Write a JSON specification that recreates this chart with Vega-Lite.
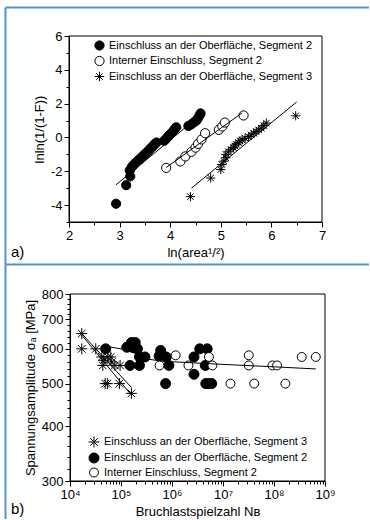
{
  "$schema": "https://vega.github.io/schema/vega-lite/v6.json",
  "padding": {"left": 5, "top": 7, "right": 0, "bottom": 0},
  "spacing": 0,
  "bounds": "flush",
  "config": {
    "font": "Liberation Sans, Arial, sans-serif",
    "view": {"stroke": null},
    "axis": {"labelFont": "Liberation Sans, DejaVu Sans", "titleFont": "Liberation Sans, DejaVu Sans", "labelFontSize": 13, "titleFontSize": 13, "titleFontWeight": "normal", "labelColor": "black", "titleColor": "black", "domainColor": "black", "tickColor": "black", "grid": false, "labelPadding": 2, "labelFlush": false, "labelOverlap": false},
    "legend": {"labelFont": "Liberation Sans", "labelFontSize": 11, "labelColor": "black", "symbolStrokeColor": "black", "symbolStrokeWidth": 1, "padding": 0, "title": null, "labelLimit": 400},
    "title": {"font": "Liberation Sans", "fontSize": 15, "fontWeight": "normal", "color": "black"}
  },
  "resolve": {"scale": {"shape": "independent", "fill": "independent", "stroke": "independent", "size": "independent"}, "legend": {"shape": "independent", "fill": "independent", "stroke": "independent", "size": "independent"}},
  "vconcat": [
    {
      "width": 364,
      "height": 257,
      "title": {"text": "a)", "orient": "bottom", "anchor": "start", "frame": "group", "offset": -4, "baseline": "bottom", "dx": 6},
      "resolve": {"scale": {"x": "independent", "y": "independent"}},
      "layer": [
        {
          "data": {"values": []},
          "mark": {"type": "point"},
          "encoding": {
            "x": {"field": "bx", "type": "quantitative", "scale": {"domain": [0, 1], "nice": false, "zero": false}, "axis": {"orient": "top", "offset": 0, "domain": true, "domainColor": "#4f95d2", "domainWidth": 2, "ticks": false, "labels": false, "title": null}},
            "y": {"field": "by", "type": "quantitative", "scale": {"domain": [0, 1], "nice": false, "zero": false}, "axis": {"orient": "left", "offset": 0, "domain": true, "domainColor": "#4f95d2", "domainWidth": 2, "ticks": false, "labels": false, "title": null}}
          }
        },
        {
          "data": {"values": [
            {"s": "Einschluss an der Oberfläche, Segment 2", "x": 2.93, "y": -3.92},
            {"s": "Einschluss an der Oberfläche, Segment 2", "x": 3.13, "y": -2.82},
            {"s": "Einschluss an der Oberfläche, Segment 2", "x": 3.21, "y": -2.3},
            {"s": "Einschluss an der Oberfläche, Segment 2", "x": 3.2, "y": -1.95},
            {"s": "Einschluss an der Oberfläche, Segment 2", "x": 3.24, "y": -1.75},
            {"s": "Einschluss an der Oberfläche, Segment 2", "x": 3.27, "y": -1.65},
            {"s": "Einschluss an der Oberfläche, Segment 2", "x": 3.3, "y": -1.55},
            {"s": "Einschluss an der Oberfläche, Segment 2", "x": 3.34, "y": -1.45},
            {"s": "Einschluss an der Oberfläche, Segment 2", "x": 3.37, "y": -1.35},
            {"s": "Einschluss an der Oberfläche, Segment 2", "x": 3.4, "y": -1.28},
            {"s": "Einschluss an der Oberfläche, Segment 2", "x": 3.43, "y": -1.2},
            {"s": "Einschluss an der Oberfläche, Segment 2", "x": 3.46, "y": -1.1},
            {"s": "Einschluss an der Oberfläche, Segment 2", "x": 3.49, "y": -1.02},
            {"s": "Einschluss an der Oberfläche, Segment 2", "x": 3.52, "y": -0.93},
            {"s": "Einschluss an der Oberfläche, Segment 2", "x": 3.55, "y": -0.85},
            {"s": "Einschluss an der Oberfläche, Segment 2", "x": 3.58, "y": -0.75},
            {"s": "Einschluss an der Oberfläche, Segment 2", "x": 3.61, "y": -0.66},
            {"s": "Einschluss an der Oberfläche, Segment 2", "x": 3.64, "y": -0.57},
            {"s": "Einschluss an der Oberfläche, Segment 2", "x": 3.67, "y": -0.48},
            {"s": "Einschluss an der Oberfläche, Segment 2", "x": 3.7, "y": -0.38},
            {"s": "Einschluss an der Oberfläche, Segment 2", "x": 3.73, "y": -0.3},
            {"s": "Einschluss an der Oberfläche, Segment 2", "x": 3.88, "y": -0.2},
            {"s": "Einschluss an der Oberfläche, Segment 2", "x": 3.92, "y": -0.08},
            {"s": "Einschluss an der Oberfläche, Segment 2", "x": 3.96, "y": 0.05},
            {"s": "Einschluss an der Oberfläche, Segment 2", "x": 3.99, "y": 0.15},
            {"s": "Einschluss an der Oberfläche, Segment 2", "x": 4.02, "y": 0.25},
            {"s": "Einschluss an der Oberfläche, Segment 2", "x": 4.06, "y": 0.38},
            {"s": "Einschluss an der Oberfläche, Segment 2", "x": 4.09, "y": 0.5},
            {"s": "Einschluss an der Oberfläche, Segment 2", "x": 4.12, "y": 0.6},
            {"s": "Einschluss an der Oberfläche, Segment 2", "x": 4.36, "y": 0.68},
            {"s": "Einschluss an der Oberfläche, Segment 2", "x": 4.42, "y": 0.78},
            {"s": "Einschluss an der Oberfläche, Segment 2", "x": 4.47, "y": 0.9},
            {"s": "Einschluss an der Oberfläche, Segment 2", "x": 4.52, "y": 1.0},
            {"s": "Einschluss an der Oberfläche, Segment 2", "x": 4.55, "y": 1.15},
            {"s": "Einschluss an der Oberfläche, Segment 2", "x": 4.58, "y": 1.3},
            {"s": "Einschluss an der Oberfläche, Segment 2", "x": 4.6, "y": 1.42},
            {"s": "Interner Einschluss, Segment 2", "x": 3.92, "y": -1.8},
            {"s": "Interner Einschluss, Segment 2", "x": 4.2, "y": -1.42},
            {"s": "Interner Einschluss, Segment 2", "x": 4.3, "y": -1.12},
            {"s": "Interner Einschluss, Segment 2", "x": 4.42, "y": -0.85},
            {"s": "Interner Einschluss, Segment 2", "x": 4.5, "y": -0.6},
            {"s": "Interner Einschluss, Segment 2", "x": 4.55, "y": -0.38},
            {"s": "Interner Einschluss, Segment 2", "x": 4.62, "y": -0.12},
            {"s": "Interner Einschluss, Segment 2", "x": 4.69, "y": 0.25},
            {"s": "Interner Einschluss, Segment 2", "x": 4.96, "y": 0.45},
            {"s": "Interner Einschluss, Segment 2", "x": 5.03, "y": 0.65},
            {"s": "Interner Einschluss, Segment 2", "x": 5.08, "y": 0.88},
            {"s": "Interner Einschluss, Segment 2", "x": 5.45, "y": 1.3},
            {"s": "Einschluss an der Oberfläche, Segment 3", "x": 4.4, "y": -3.5},
            {"s": "Einschluss an der Oberfläche, Segment 3", "x": 4.8, "y": -2.4},
            {"s": "Einschluss an der Oberfläche, Segment 3", "x": 5.0, "y": -1.9},
            {"s": "Einschluss an der Oberfläche, Segment 3", "x": 5.02, "y": -1.6},
            {"s": "Einschluss an der Oberfläche, Segment 3", "x": 5.06, "y": -1.4},
            {"s": "Einschluss an der Oberfläche, Segment 3", "x": 5.1, "y": -1.2},
            {"s": "Einschluss an der Oberfläche, Segment 3", "x": 5.1, "y": -1.0},
            {"s": "Einschluss an der Oberfläche, Segment 3", "x": 5.15, "y": -0.85},
            {"s": "Einschluss an der Oberfläche, Segment 3", "x": 5.2, "y": -0.7},
            {"s": "Einschluss an der Oberfläche, Segment 3", "x": 5.25, "y": -0.6},
            {"s": "Einschluss an der Oberfläche, Segment 3", "x": 5.28, "y": -0.5},
            {"s": "Einschluss an der Oberfläche, Segment 3", "x": 5.3, "y": -0.4},
            {"s": "Einschluss an der Oberfläche, Segment 3", "x": 5.35, "y": -0.3},
            {"s": "Einschluss an der Oberfläche, Segment 3", "x": 5.38, "y": -0.2},
            {"s": "Einschluss an der Oberfläche, Segment 3", "x": 5.42, "y": -0.15},
            {"s": "Einschluss an der Oberfläche, Segment 3", "x": 5.48, "y": -0.05},
            {"s": "Einschluss an der Oberfläche, Segment 3", "x": 5.55, "y": 0.05},
            {"s": "Einschluss an der Oberfläche, Segment 3", "x": 5.6, "y": 0.15},
            {"s": "Einschluss an der Oberfläche, Segment 3", "x": 5.65, "y": 0.25},
            {"s": "Einschluss an der Oberfläche, Segment 3", "x": 5.7, "y": 0.35},
            {"s": "Einschluss an der Oberfläche, Segment 3", "x": 5.75, "y": 0.45},
            {"s": "Einschluss an der Oberfläche, Segment 3", "x": 5.8, "y": 0.55},
            {"s": "Einschluss an der Oberfläche, Segment 3", "x": 5.85, "y": 0.7},
            {"s": "Einschluss an der Oberfläche, Segment 3", "x": 5.9, "y": 0.85},
            {"s": "Einschluss an der Oberfläche, Segment 3", "x": 6.48, "y": 1.28}
          ]},
          "mark": {"type": "point", "strokeWidth": 1, "opacity": 1},
          "encoding": {
            "x": {"field": "x", "type": "quantitative", "scale": {"domain": [2, 7], "range": [64, 317], "nice": false, "zero": false},
              "axis": {"orient": "bottom", "offset": -42, "title": "ln(area¹/²)", "values": [2, 2.5, 3, 3.5, 4, 4.5, 5, 5.5, 6, 6.5, 7], "labelExpr": "datum.value % 1 == 0 ? '' + datum.value : ''", "tickSize": {"condition": {"test": "datum.value % 1 == 0", "value": 5}, "value": 3}}},
            "y": {"field": "y", "type": "quantitative", "scale": {"domain": [-5, 6], "range": [215, 29], "nice": false, "zero": false},
              "axis": {"orient": "left", "offset": -64, "title": "lnln(1/(1-F))", "values": [-5, -4, -3, -2, -1, 0, 1, 2, 3, 4, 5, 6], "labelExpr": "datum.value % 2 == 0 ? '' + datum.value : ''", "tickSize": {"condition": {"test": "datum.value % 2 == 0", "value": 5}, "value": 3}}},
            "shape": {"field": "s", "type": "nominal", "scale": {"domain": ["Einschluss an der Oberfläche, Segment 2", "Interner Einschluss, Segment 2", "Einschluss an der Oberfläche, Segment 3"], "range": ["circle", "circle", "M-1,0L1,0M0,-1L0,1M-0.7,-0.7L0.7,0.7M-0.7,0.7L0.7,-0.7"]},
              "legend": {"orient": "none", "legendX": 89, "legendY": 33, "rowPadding": 0.5, "labelOffset": 4}},
            "fill": {"field": "s", "type": "nominal", "scale": {"domain": ["Einschluss an der Oberfläche, Segment 2", "Interner Einschluss, Segment 2", "Einschluss an der Oberfläche, Segment 3"], "range": ["black", "white", "black"]},
              "legend": {"orient": "none", "legendX": 89, "legendY": 33, "rowPadding": 0.5, "labelOffset": 4}},
            "stroke": {"field": "s", "type": "nominal", "scale": {"domain": ["Einschluss an der Oberfläche, Segment 2", "Interner Einschluss, Segment 2", "Einschluss an der Oberfläche, Segment 3"], "range": ["black", "black", "black"]},
              "legend": {"orient": "none", "legendX": 89, "legendY": 33, "rowPadding": 0.5, "labelOffset": 4}},
            "size": {"field": "s", "type": "ordinal", "scale": {"domain": ["Einschluss an der Oberfläche, Segment 2", "Interner Einschluss, Segment 2", "Einschluss an der Oberfläche, Segment 3"], "range": [85, 85, 125]},
              "legend": {"orient": "none", "legendX": 89, "legendY": 33, "rowPadding": 0.5, "labelOffset": 4}}
          }
        },
        {
          "data": {"values": [
            {"l": "a", "x": 2.93, "y": -2.8},
            {"l": "a", "x": 4.67, "y": 1.5},
            {"l": "b", "x": 3.92, "y": -1.78},
            {"l": "b", "x": 5.42, "y": 1.45},
            {"l": "c", "x": 4.42, "y": -3.0},
            {"l": "c", "x": 6.5, "y": 2.1}
          ]},
          "mark": {"type": "line", "color": "black", "strokeWidth": 1},
          "encoding": {
            "x": {"field": "x", "type": "quantitative", "scale": {"domain": [2, 7], "range": [64, 317], "nice": false, "zero": false}, "axis": null},
            "y": {"field": "y", "type": "quantitative", "scale": {"domain": [-5, 6], "range": [215, 29], "nice": false, "zero": false}, "axis": null},
            "detail": {"field": "l"}
          }
        },
        {
          "data": {"values": [{}]},
          "mark": {"type": "rect", "fill": null, "fillOpacity": 0, "stroke": "black", "strokeWidth": 1},
          "encoding": {
            "x": {"datum": 2, "type": "quantitative", "scale": {"domain": [2, 7], "range": [64, 317], "nice": false, "zero": false}, "axis": null},
            "x2": {"datum": 7},
            "y": {"datum": -5, "type": "quantitative", "scale": {"domain": [-5, 6], "range": [215, 29], "nice": false, "zero": false}, "axis": null},
            "y2": {"datum": 6}
          }
        }
      ]
    },
    {
      "width": 364,
      "height": 255,
      "title": {"text": "b)", "orient": "bottom", "anchor": "start", "frame": "group", "offset": -2, "baseline": "bottom", "dx": 6},
      "resolve": {"scale": {"x": "independent", "y": "independent"}},
      "layer": [
        {
          "data": {"values": []},
          "mark": {"type": "point"},
          "encoding": {
            "x": {"field": "bx", "type": "quantitative", "scale": {"domain": [0, 1], "nice": false, "zero": false}, "axis": {"orient": "top", "offset": 0, "domain": true, "domainColor": "#4f95d2", "domainWidth": 2, "ticks": false, "labels": false, "title": null}},
            "y": {"field": "by", "type": "quantitative", "scale": {"domain": [0, 1], "nice": false, "zero": false}, "axis": {"orient": "left", "offset": 0, "domain": true, "domainColor": "#4f95d2", "domainWidth": 2, "ticks": false, "labels": false, "title": null}}
          }
        },
        {
          "data": {"values": [
            {"s": "Einschluss an der Oberfläche, Segment 3", "n": 17000, "v": 650},
            {"s": "Einschluss an der Oberfläche, Segment 3", "n": 17000, "v": 600},
            {"s": "Einschluss an der Oberfläche, Segment 3", "n": 32000, "v": 600},
            {"s": "Einschluss an der Oberfläche, Segment 3", "n": 42000, "v": 575},
            {"s": "Einschluss an der Oberfläche, Segment 3", "n": 46000, "v": 565},
            {"s": "Einschluss an der Oberfläche, Segment 3", "n": 44000, "v": 550},
            {"s": "Einschluss an der Oberfläche, Segment 3", "n": 55000, "v": 575},
            {"s": "Einschluss an der Oberfläche, Segment 3", "n": 63000, "v": 575},
            {"s": "Einschluss an der Oberfläche, Segment 3", "n": 66000, "v": 560},
            {"s": "Einschluss an der Oberfläche, Segment 3", "n": 76000, "v": 550},
            {"s": "Einschluss an der Oberfläche, Segment 3", "n": 96000, "v": 550},
            {"s": "Einschluss an der Oberfläche, Segment 3", "n": 49000, "v": 500},
            {"s": "Einschluss an der Oberfläche, Segment 3", "n": 54000, "v": 500},
            {"s": "Einschluss an der Oberfläche, Segment 3", "n": 93000, "v": 500},
            {"s": "Einschluss an der Oberfläche, Segment 3", "n": 160000, "v": 475},
            {"s": "Einschluss an der Oberfläche, Segment 2", "n": 50000, "v": 600},
            {"s": "Einschluss an der Oberfläche, Segment 2", "n": 130000, "v": 605},
            {"s": "Einschluss an der Oberfläche, Segment 2", "n": 160000, "v": 620},
            {"s": "Einschluss an der Oberfläche, Segment 2", "n": 190000, "v": 620},
            {"s": "Einschluss an der Oberfläche, Segment 2", "n": 175000, "v": 605},
            {"s": "Einschluss an der Oberfläche, Segment 2", "n": 210000, "v": 600},
            {"s": "Einschluss an der Oberfläche, Segment 2", "n": 230000, "v": 575},
            {"s": "Einschluss an der Oberfläche, Segment 2", "n": 295000, "v": 575},
            {"s": "Einschluss an der Oberfläche, Segment 2", "n": 150000, "v": 550},
            {"s": "Einschluss an der Oberfläche, Segment 2", "n": 230000, "v": 550},
            {"s": "Einschluss an der Oberfläche, Segment 2", "n": 600000, "v": 595},
            {"s": "Einschluss an der Oberfläche, Segment 2", "n": 560000, "v": 578},
            {"s": "Einschluss an der Oberfläche, Segment 2", "n": 770000, "v": 575},
            {"s": "Einschluss an der Oberfläche, Segment 2", "n": 870000, "v": 550},
            {"s": "Einschluss an der Oberfläche, Segment 2", "n": 750000, "v": 500},
            {"s": "Einschluss an der Oberfläche, Segment 2", "n": 2700000, "v": 575},
            {"s": "Einschluss an der Oberfläche, Segment 2", "n": 3500000, "v": 600},
            {"s": "Einschluss an der Oberfläche, Segment 2", "n": 4900000, "v": 600},
            {"s": "Einschluss an der Oberfläche, Segment 2", "n": 4500000, "v": 550},
            {"s": "Einschluss an der Oberfläche, Segment 2", "n": 2700000, "v": 525},
            {"s": "Einschluss an der Oberfläche, Segment 2", "n": 4600000, "v": 500},
            {"s": "Einschluss an der Oberfläche, Segment 2", "n": 5300000, "v": 500},
            {"s": "Einschluss an der Oberfläche, Segment 2", "n": 6000000, "v": 500},
            {"s": "Interner Einschluss, Segment 2", "n": 1180000, "v": 580},
            {"s": "Interner Einschluss, Segment 2", "n": 570000, "v": 550},
            {"s": "Interner Einschluss, Segment 2", "n": 2100000, "v": 550},
            {"s": "Interner Einschluss, Segment 2", "n": 5300000, "v": 575},
            {"s": "Interner Einschluss, Segment 2", "n": 6200000, "v": 550},
            {"s": "Interner Einschluss, Segment 2", "n": 14000000, "v": 500},
            {"s": "Interner Einschluss, Segment 2", "n": 32000000, "v": 580},
            {"s": "Interner Einschluss, Segment 2", "n": 32000000, "v": 550},
            {"s": "Interner Einschluss, Segment 2", "n": 41000000, "v": 500},
            {"s": "Interner Einschluss, Segment 2", "n": 93000000, "v": 550},
            {"s": "Interner Einschluss, Segment 2", "n": 115000000, "v": 550},
            {"s": "Interner Einschluss, Segment 2", "n": 167000000, "v": 500},
            {"s": "Interner Einschluss, Segment 2", "n": 350000000, "v": 575},
            {"s": "Interner Einschluss, Segment 2", "n": 660000000, "v": 575}
          ]},
          "mark": {"type": "point", "strokeWidth": 1, "opacity": 1},
          "encoding": {
            "x": {"field": "n", "type": "quantitative", "scale": {"type": "log", "domain": [10000, 1000000000], "range": [65, 320], "nice": false},
              "axis": {"orient": "bottom", "offset": -38, "title": "Bruchlastspielzahl Nʙ",
                "values": [10000, 20000, 30000, 40000, 50000, 60000, 70000, 80000, 90000, 100000, 200000, 300000, 400000, 500000, 600000, 700000, 800000, 900000, 1000000, 2000000, 3000000, 4000000, 5000000, 6000000, 7000000, 8000000, 9000000, 10000000, 20000000, 30000000, 40000000, 50000000, 60000000, 70000000, 80000000, 90000000, 100000000, 200000000, 300000000, 400000000, 500000000, 600000000, 700000000, 800000000, 900000000, 1000000000],
                "labelExpr": "abs(log(datum.value)/LN10 - round(log(datum.value)/LN10)) < 0.000001 ? '10' + ['⁴','⁵','⁶','⁷','⁸','⁹'][round(log(datum.value)/LN10) - 4] : ''",
                "tickSize": {"condition": {"test": "abs(log(datum.value)/LN10 - round(log(datum.value)/LN10)) < 0.000001", "value": 5}, "value": 3}}},
            "y": {"field": "v", "type": "quantitative", "scale": {"type": "log", "domain": [300, 800], "range": [217, 30], "nice": false},
              "axis": {"orient": "left", "offset": -65, "title": "Spannungsamplitude σₐ [MPa]",
                "values": [300, 320, 340, 360, 380, 400, 420, 440, 460, 480, 500, 520, 540, 560, 580, 600, 620, 640, 660, 680, 700, 720, 740, 760, 780, 800],
                "labelExpr": "datum.value % 100 == 0 ? '' + datum.value : ''",
                "tickSize": {"condition": {"test": "datum.value % 100 == 0", "value": 5}, "value": 3}}},
            "shape": {"field": "s", "type": "nominal", "scale": {"domain": ["Einschluss an der Oberfläche, Segment 3", "Einschluss an der Oberfläche, Segment 2", "Interner Einschluss, Segment 2"], "range": ["M-1,0L1,0M0,-1L0,1M-0.7,-0.7L0.7,0.7M-0.7,0.7L0.7,-0.7", "circle", "circle"]},
              "legend": {"orient": "none", "legendX": 83, "legendY": 172, "rowPadding": 0.5, "labelOffset": 4}},
            "fill": {"field": "s", "type": "nominal", "scale": {"domain": ["Einschluss an der Oberfläche, Segment 3", "Einschluss an der Oberfläche, Segment 2", "Interner Einschluss, Segment 2"], "range": ["black", "black", "white"]},
              "legend": {"orient": "none", "legendX": 83, "legendY": 172, "rowPadding": 0.5, "labelOffset": 4}},
            "stroke": {"field": "s", "type": "nominal", "scale": {"domain": ["Einschluss an der Oberfläche, Segment 3", "Einschluss an der Oberfläche, Segment 2", "Interner Einschluss, Segment 2"], "range": ["black", "black", "black"]},
              "legend": {"orient": "none", "legendX": 83, "legendY": 172, "rowPadding": 0.5, "labelOffset": 4}},
            "size": {"field": "s", "type": "ordinal", "scale": {"domain": ["Einschluss an der Oberfläche, Segment 3", "Einschluss an der Oberfläche, Segment 2", "Interner Einschluss, Segment 2"], "range": [120, 80, 80]},
              "legend": {"orient": "none", "legendX": 83, "legendY": 172, "rowPadding": 0.5, "labelOffset": 4}}
          }
        },
        {
          "data": {"values": [
            {"l": "a", "n": 17000, "v": 650},
            {"l": "a", "n": 160000, "v": 490},
            {"l": "b", "n": 17000, "v": 645},
            {"l": "b", "n": 150000, "v": 475},
            {"l": "c", "n": 50000, "v": 608},
            {"l": "c", "n": 100000, "v": 600},
            {"l": "c", "n": 200000, "v": 585},
            {"l": "c", "n": 350000, "v": 568},
            {"l": "c", "n": 700000, "v": 562},
            {"l": "c", "n": 10000000, "v": 553},
            {"l": "c", "n": 100000000, "v": 546},
            {"l": "c", "n": 660000000, "v": 540}
          ]},
          "mark": {"type": "line", "color": "black", "strokeWidth": 1},
          "encoding": {
            "x": {"field": "n", "type": "quantitative", "scale": {"type": "log", "domain": [10000, 1000000000], "range": [65, 320], "nice": false}, "axis": null},
            "y": {"field": "v", "type": "quantitative", "scale": {"type": "log", "domain": [300, 800], "range": [217, 30], "nice": false}, "axis": null},
            "detail": {"field": "l"}
          }
        },
        {
          "data": {"values": [{}]},
          "mark": {"type": "rect", "fill": null, "fillOpacity": 0, "stroke": "black", "strokeWidth": 1},
          "encoding": {
            "x": {"datum": 10000, "type": "quantitative", "scale": {"type": "log", "domain": [10000, 1000000000], "range": [65, 320], "nice": false}, "axis": null},
            "x2": {"datum": 1000000000},
            "y": {"datum": 300, "type": "quantitative", "scale": {"type": "log", "domain": [300, 800], "range": [217, 30], "nice": false}, "axis": null},
            "y2": {"datum": 800}
          }
        }
      ]
    }
  ]
}
